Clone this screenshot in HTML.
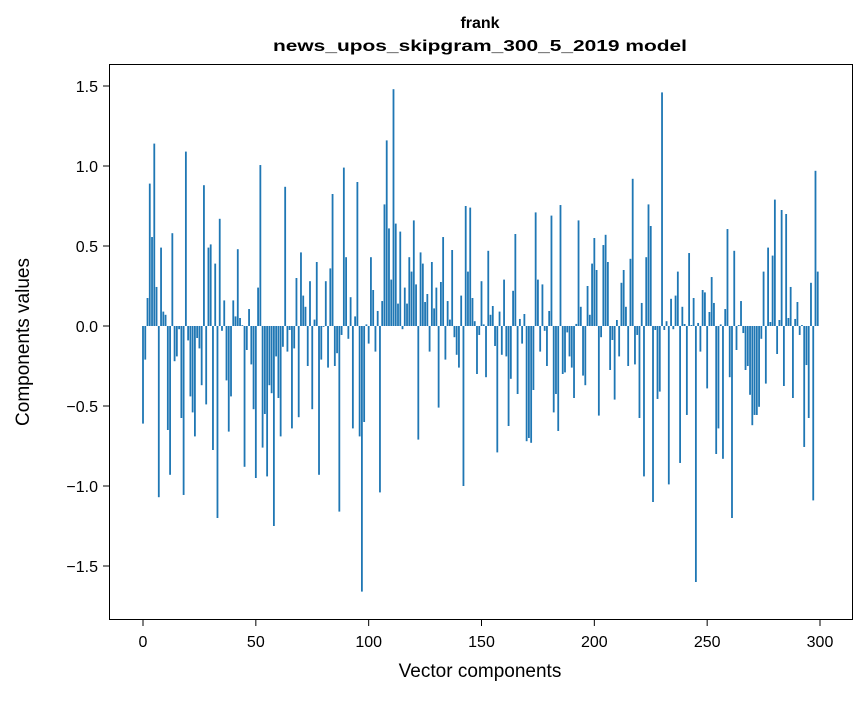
<!DOCTYPE html>
<html><head><meta charset="utf-8"><style>
body{margin:0;background:#fff;}
svg text{font-family:"Liberation Sans","DejaVu Sans",sans-serif;fill:#000;}
</style></head><body>
<svg id="chart" width="867" height="696" xmlns="http://www.w3.org/2000/svg">
<rect width="867" height="696" fill="#fff"/>
<text x="480" y="28" text-anchor="middle" font-size="16" font-weight="bold">frank</text>
<text x="480" y="51" text-anchor="middle" font-size="16" font-weight="bold" textLength="414" lengthAdjust="spacingAndGlyphs">news_upos_skipgram_300_5_2019 model</text>
<g id="bars"></g>
<g id="axes"></g>
<rect x="109.5" y="64.5" width="743" height="555" fill="none" stroke="#000" stroke-width="1"/>
<text x="480" y="677" text-anchor="middle" font-size="19">Vector components</text>
<text transform="translate(29,342) rotate(-90)" text-anchor="middle" font-size="19">Components values</text>
</svg>
<script>
const values = [
-0.61,-0.21,0.175,0.89,0.556,1.14,0.244,-1.07,0.49,0.09,
0.07,-0.65,-0.93,0.58,-0.22,-0.19,-0.02,-0.575,-1.056,1.09,
-0.09,-0.44,-0.54,-0.69,-0.075,-0.14,-0.37,0.88,-0.49,0.49,
0.51,-0.775,0.39,-1.2,0.67,-0.03,0.16,-0.34,-0.66,-0.44,
0.16,0.06,0.48,0.05,0.005,-0.88,-0.15,0.106,-0.24,-0.52,
-0.95,0.24,1.006,-0.76,-0.55,-0.94,-0.37,-0.42,-1.25,-0.19,
-0.45,-0.69,-0.13,0.87,-0.16,-0.025,-0.64,-0.14,0.3,-0.57,
0.46,0.19,0.12,-0.25,0.28,-0.52,0.04,0.4,-0.93,-0.21,
-0.005,0.28,-0.26,0.36,0.825,-0.25,-0.17,-1.16,-0.056,0.99,
0.43,-0.08,0.18,-0.64,0.06,0.9,-0.69,-1.66,-0.6,0.01,
-0.11,0.43,0.225,-0.16,0.094,-1.04,0.156,0.76,1.16,0.61,
0.29,1.48,0.64,0.14,0.59,-0.02,0.24,0.14,0.43,0.34,
0.66,0.26,-0.71,0.46,0.39,0.15,0.2,-0.16,0.4,0.11,
0.24,-0.51,0.275,0.556,-0.21,0.156,0.04,0.475,-0.07,-0.18,
-0.26,0.19,-1.0,0.75,0.34,0.74,0.175,0.03,-0.3,-0.056,
0.28,0.01,-0.32,0.47,0.07,0.125,-0.125,-0.79,0.09,-0.18,
0.29,-0.19,-0.625,-0.33,0.22,0.575,-0.425,0.044,-0.11,0.075,
-0.72,-0.7,-0.73,-0.4,0.71,0.29,-0.16,0.26,-0.03,-0.25,
0.094,0.69,-0.54,-0.425,-0.656,0.756,-0.3,-0.29,-0.04,-0.19,
-0.26,-0.45,0.013,0.66,0.12,-0.31,-0.37,0.25,0.07,0.39,
0.55,0.35,-0.56,-0.07,0.506,0.57,0.4,-0.275,-0.0875,-0.46,
0.0375,-0.19,0.27,0.35,0.12,-0.25,0.42,0.92,-0.24,-0.056,
-0.575,0.144,-0.94,0.43,0.76,0.625,-1.1,-0.025,-0.456,-0.41,
1.46,-0.025,0.03,-0.99,0.17,-0.02,0.19,0.34,-0.856,0.12,
0.0125,-0.556,0.456,0.006,0.175,-1.6,0.019,-0.16,0.225,0.21,
-0.39,0.0875,0.306,0.144,-0.8,-0.64,0.01,-0.83,0.106,0.606,
-0.32,-1.2,0.47,-0.15,0.006,0.156,-0.044,-0.275,-0.25,-0.43,
-0.62,-0.556,-0.556,-0.505,-0.08,0.34,-0.36,0.49,0.025,0.44,
0.79,-0.175,0.0375,0.725,-0.375,0.7,0.05,0.244,-0.45,0.044,
0.15,-0.056,0.006,-0.756,-0.244,-0.575,0.27,-1.09,0.97,0.34
];
const xTicks = [0,50,100,150,200,250,300];
const yTicks = [-1.5,-1.0,-0.5,0.0,0.5,1.0,1.5];
const yTickLabels = ["\u22121.5","\u22121.0","\u22120.5","0.0","0.5","1.0","1.5"];

const NS="http://www.w3.org/2000/svg";
const X = v => 143 + (v)*(677/300);
const Y = v => 326 - v*160;
const bars=document.getElementById('bars');
values.forEach((v,i)=>{
  const r=document.createElementNS(NS,'rect');
  const w=0.8*(677/300);
  r.setAttribute('x',X(i)-w/2);
  r.setAttribute('width',w);
  r.setAttribute('y',Math.min(Y(v),Y(0)));
  r.setAttribute('height',Math.abs(Y(v)-Y(0)));
  r.setAttribute('fill','#1f77b4');
  
  
  bars.appendChild(r);
});
const axes=document.getElementById('axes');
xTicks.forEach(t=>{
  const l=document.createElementNS(NS,'line');
  l.setAttribute('x1',X(t));l.setAttribute('x2',X(t));
  l.setAttribute('y1',619.5);l.setAttribute('y2',626);
  l.setAttribute('stroke','#000');
  
  
  axes.appendChild(l);
  const tx=document.createElementNS(NS,'text');
  tx.setAttribute('x',X(t));tx.setAttribute('y',647);
  tx.setAttribute('text-anchor','middle');tx.setAttribute('font-size','16');
  tx.textContent=t;
  
  
  axes.appendChild(tx);
});
yTicks.forEach((t,k)=>{
  const l=document.createElementNS(NS,'line');
  l.setAttribute('x1',103);l.setAttribute('x2',109.5);
  l.setAttribute('y1',Y(t));l.setAttribute('y2',Y(t));
  l.setAttribute('stroke','#000');
  
  
  axes.appendChild(l);
  const tx=document.createElementNS(NS,'text');
  tx.setAttribute('x',98);tx.setAttribute('y',Y(t)+6);
  tx.setAttribute('text-anchor','end');tx.setAttribute('font-size','16');
  tx.textContent=yTickLabels[k];
  
  
  axes.appendChild(tx);
});
</script>
</body></html>
